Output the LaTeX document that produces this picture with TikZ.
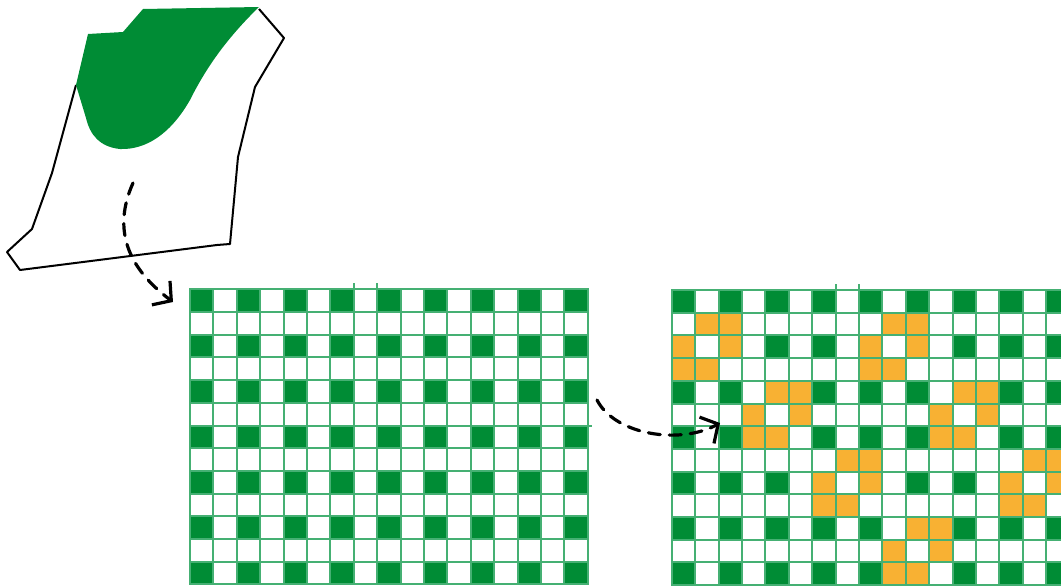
\documentclass[tikz,border=0pt]{standalone}
\usepackage{tikz}
\usetikzlibrary{arrows.meta}
\definecolor{leaf}{HTML}{008C35}
\definecolor{gridline}{HTML}{45B073}
\definecolor{amber}{HTML}{F8B133}
\begin{document}
\begin{tikzpicture}[x=1pt,y=-1pt,
  cell/.style={minimum width=23.4pt,minimum height=22.7pt,inner sep=0pt,outer sep=0pt,draw=gridline,line width=2pt},
  rule/.style={gridline,line width=2pt},
  flow/.style={line width=3.2pt,dash pattern=on 12pt off 9pt,line cap=round,-{Straight Barb[length=13pt,width=30pt,line width=3.2pt]}}]
  \useasboundingbox (0,0) rectangle (1061,586);
  \clip (0,0) rectangle (1061,586);
  \def\cc#1{\ifcase#1 white\or leaf\fi}
  \draw[line width=2pt,line join=round] (259,9) -- (284,38) -- (255,87) -- (238,157) -- (230,244) -- (217,245)
     -- (20,270) -- (7,252) -- (32,229) -- (52,173) -- (76,85);
  \fill[leaf] (76,85) -- (88,34) -- (123,32) -- (143,9) -- (259,7) .. controls (225,40) and (205,70) .. (190,100)
     .. controls (170,135) and (145,150) .. (120,149) .. controls (100,147) and (90,135) .. (86,118) -- cycle;
  \foreach \g/\x/\y in {g1/190/289.3,g2/671.7/290}{
    \foreach \r in {0,...,12}{
      \foreach \c in {0,...,16}{
        \pgfmathtruncatemacro{\k}{(1-mod(\r,2))*(1-mod(\c,2))}
        \node[cell,fill=\cc{\k}] (\g-\r-\c) at (\x+23.4*\c+11.7,\y+22.7*\r+11.35) {};}}
    \draw[rule] (\g-0-7.north west) -- ++(0,-6);
    \draw[rule] (\g-0-8.north west) -- ++(0,-6);}
  \draw[rule] (g1-5-16.south east) -- ++(4,0);
  \foreach \R/\C in {2/1,2/9,5/4,5/12,8/7,8/15,11/10}{
    \foreach \dr/\dc in {-1/0,-1/1,0/-1,0/1,1/-1,1/0}{
      \pgfmathtruncatemacro{\rr}{\R+\dr}
      \pgfmathtruncatemacro{\cq}{\C+\dc}
      \node[cell,fill=amber] at (g2-\rr-\cq) {};}}
  \coordinate (src) at (133,183);
  \coordinate (tip1) at (173,302);
  \coordinate (out1) at (597,400);
  \coordinate (tip2) at (720,423);
  \draw[flow] (src) .. controls (112,230) and (128,268) .. (tip1);
  \draw[flow] (out1) .. controls (615,435) and (680,445) .. (tip2);
\end{tikzpicture}
\end{document}
